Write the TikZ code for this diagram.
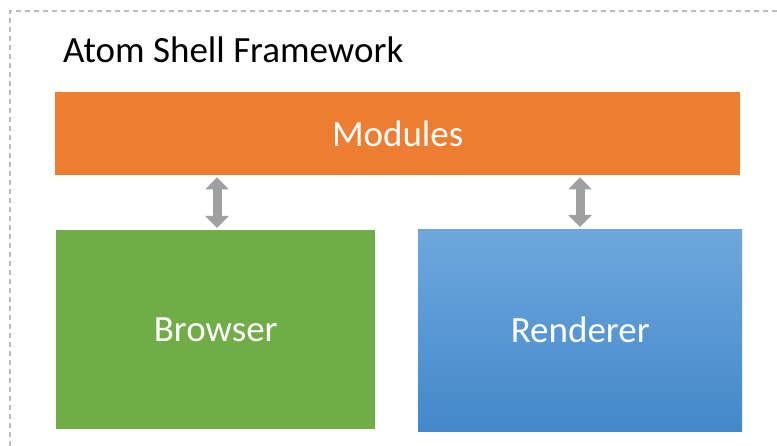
\documentclass[tikz,border=0pt]{standalone}
\usepackage{fontspec}
\setmainfont{Carlito}
\usetikzlibrary{arrows.meta,calc}
\definecolor{modorange}{HTML}{ED7D31}
\definecolor{brgreen}{HTML}{70AD47}
\definecolor{rentop}{HTML}{6EA7DE}
\definecolor{renbot}{HTML}{4388CA}
\definecolor{arrgray}{HTML}{A0A0A0}
\definecolor{framegray}{HTML}{BDBDBD}
\tikzset{
  box/.style={draw=none, inner sep=0pt, anchor=north west, text=white, font=\fontsize{37}{44}\selectfont},
  biarrow/.style={draw=arrgray, line width=9pt,
    {Triangle[width=23pt,length=12pt]}-{Triangle[width=23pt,length=12pt]}, shorten <=2pt, shorten >=2pt},
}
\begin{document}
\begin{tikzpicture}[x=1pt,y=-1pt]
\useasboundingbox (0,0) rectangle (777,446);
\fill[white] (0,0) rectangle (777,446);
\draw[framegray, line width=1.2pt, dash pattern=on 5pt off 4pt] (10,446) -- (10,11) -- (777,11);
\node[anchor=base west, font=\fontsize{37}{44}\selectfont, inner sep=0pt] (title) at (63,63) {Atom Shell Framework};
\node[box, fill=modorange, minimum width=685pt, minimum height=83pt] (mod) at (55,92) {Modules};
\node[box, fill=brgreen, minimum width=319pt, minimum height=199pt] (br) at (56,230) {Browser};
\node[box, top color=rentop, bottom color=renbot, minimum width=324pt, minimum height=202pt] (ren) at (418,229) {Renderer};
\draw[biarrow] (mod.south -| 217,0) -- (br.north -| 217,0);
\draw[biarrow] (mod.south -| 580,0) -- (ren.north -| 580,0);
\end{tikzpicture}
\end{document}
